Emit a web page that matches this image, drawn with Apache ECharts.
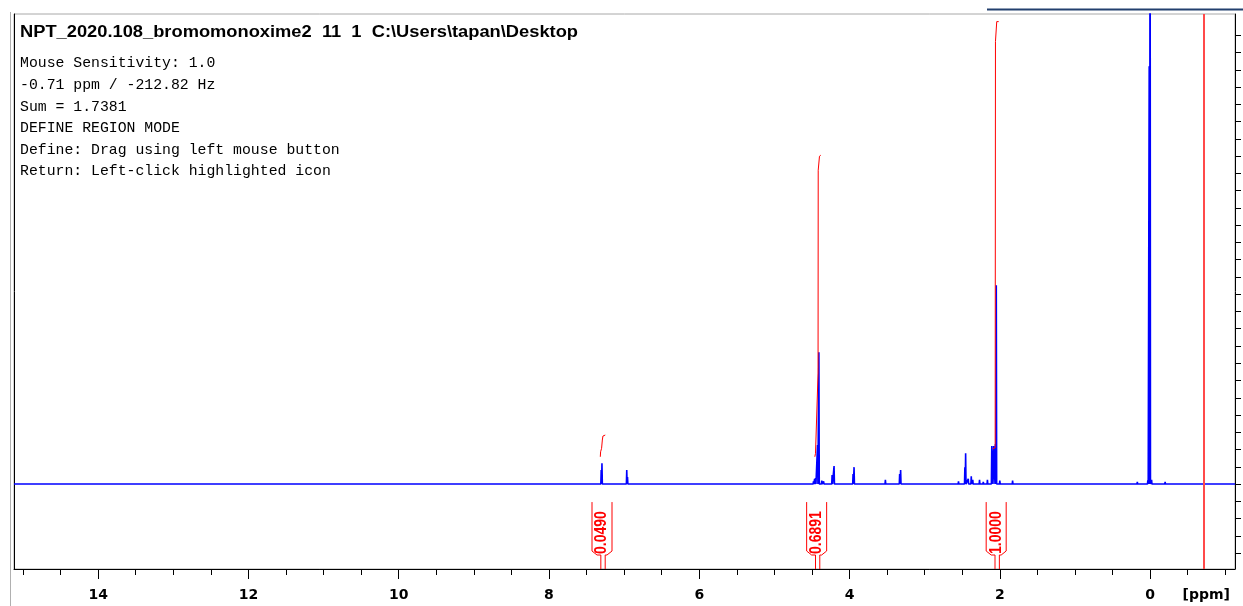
<!DOCTYPE html>
<html>
<head>
<meta charset="utf-8">
<script src="https://cdn.jsdelivr.net/npm/echarts@6/dist/echarts.min.js"></script>
<style>
  html, body { margin: 0; padding: 0; background: #fff; }
  #chart { width: 1243px; height: 606px; }
</style>
</head>
<body>
<div id="chart"></div>
<script>
// 1H NMR spectrum (chemical shift axis runs right-to-left)
const ppmRange = [15.12, -1.13];
const intensityRange = [-4.92, 27.23];

// Peak positions (ppm) and heights (relative intensity), high ppm first
const peakPpm = [
  7.305, 7.295, 6.965, 6.955, 6.83, 5.18, 4.70,
  4.48, 4.465, 4.452, 4.426, 4.408, 4.37, 4.345,
  4.232, 4.206, 4.16, 3.953, 3.94, 3.523, 3.41, 3.333, 3.32,
  2.98, 2.90, 2.72, 2.66, 2.55, 2.465, 2.455, 2.42, 2.38, 2.36,
  2.27, 2.22, 2.165, 2.107, 2.082, 2.058, 2.047, 2.00,
  1.83, 1.26, 0.17, 0.10, 0.03, 0.012, 0.0, -0.02, -0.20
];
const peakHeight = [
  0.81, 1.20, 0.81, 0.40, 0.10, 0.05, 0.04,
  0.15, 0.30, 0.35, 2.26, 7.64, 0.20, 0.15,
  0.52, 1.04, 0.10, 0.58, 0.98, 0.25, 0.10, 0.58, 0.81,
  0.05, 0.05, 0.08, 0.08, 0.15, 0.98, 1.78, 0.30, 0.45, 0.25,
  0.25, 0.12, 0.25, 2.20, 2.20, 2.32, 11.52, 0.20,
  0.20, 0.06, 0.12, 0.10, 0.22, 24.2, 40.0, 0.25, 0.12
];

// Integral traces [ppm, level]
const integralCurve1 = [[7.317, 1.58], [7.313, 1.87], [7.300, 2.07], [7.290, 2.55], [7.282, 2.78], [7.251, 2.84]];
const integralCurve2 = [[4.462, 1.58], [4.453, 1.78], [4.449, 2.32], [4.426, 2.36], [4.419, 6.43], [4.417, 18.18], [4.405, 18.22], [4.400, 18.99], [4.383, 19.05]];
const integralCurve3 = [[2.094, 2.04], [2.062, 2.10], [2.058, 25.64], [2.045, 25.70], [2.041, 26.79], [2.015, 26.79]];

// Integration regions [from ppm, to ppm] and their normalised values
const integralRegions = [[7.310, 7.252], [4.453, 4.396], [2.064, 2.006]];
const integralValues = ['0.0490', '0.6891', '1.0000'];

// Axis ticks
const majorTicks = [14, 12, 10, 8, 6, 4, 2, 0];
const minorTicks = [15, 14.5, 13.5, 13, 12.5, 11.5, 11, 10.5, 9.5, 9, 8.5, 7.5, 7, 6.5,
                    5.5, 5, 4.5, 3.5, 3, 2.5, 1.5, 1, 0.5, -0.5, -1];
const intensityTicks = [-4, -3, -2, -1, 0, 1, 2, 3, 4, 5, 6, 7, 8, 9, 10, 11, 12, 13,
                        14, 15, 16, 17, 18, 19, 20, 21, 22, 23, 24, 25, 26];

// Cursor position and status panel
const cursorPpm = -0.71;
const titleText = 'NPT_2020.108_bromomonoxime2  11  1  C:\\Users\\tapan\\Desktop';
const infoLines = [
  'Mouse Sensitivity: 1.0',
  '-0.71 ppm / -212.82 Hz',
  'Sum = 1.7381',
  'DEFINE REGION MODE',
  'Define: Drag using left mouse button',
  'Return: Left-click highlighted icon'
];

// Spectrum trace: flat baseline with a narrow spike for each peak
const halfWidth = 0.005;
const spectrum = [[ppmRange[0], 0]];
peakPpm.forEach((p, i) => {
  spectrum.push([p + halfWidth, 0], [p, peakHeight[i]], [p - halfWidth, 0]);
});
spectrum.push([ppmRange[1], 0]);

const RED = '#ff0000';
const BLUE = '#0000ff';

const chart = echarts.init(document.getElementById('chart'), null, { renderer: 'canvas' });

const integralLine = (data) => ({
  type: 'line',
  data: data,
  xAxisIndex: 0,
  yAxisIndex: 0,
  showSymbol: false,
  symbol: 'none',
  silent: true,
  lineStyle: { color: RED, width: 1 },
  z: 4
});

chart.setOption({
  animation: false,
  backgroundColor: '#ffffff',
  grid: {
    left: 14, right: 8, top: 14, bottom: 37,
    show: true, borderColor: '#a8a8a8', borderWidth: 1, backgroundColor: '#ffffff'
  },
  xAxis: [
    {
      type: 'value', position: 'bottom', inverse: true,
      min: ppmRange[1], max: ppmRange[0],
      axisLine: { show: true, onZero: false, lineStyle: { color: '#000', width: 1 } },
      axisTick: { show: true, inside: false, length: 10, customValues: majorTicks, lineStyle: { color: '#000', width: 1 } },
      axisLabel: {
        show: true, customValues: majorTicks, margin: 19,
        color: '#000', fontFamily: 'DejaVu Sans', fontWeight: 'bold', fontSize: 14
      },
      splitLine: { show: false }
    },
    {
      type: 'value', position: 'bottom', inverse: true,
      min: ppmRange[1], max: ppmRange[0],
      axisLine: { show: false, onZero: false },
      axisTick: { show: true, inside: false, length: 6, customValues: minorTicks, lineStyle: { color: '#000', width: 1 } },
      axisLabel: { show: false },
      splitLine: { show: false }
    }
  ],
  yAxis: [
    {
      type: 'value', position: 'right',
      min: intensityRange[0], max: intensityRange[1],
      axisLine: { show: true, onZero: false, lineStyle: { color: '#000', width: 1 } },
      axisTick: { show: true, inside: false, length: 6, customValues: intensityTicks, lineStyle: { color: '#000', width: 1 } },
      axisLabel: { show: false },
      splitLine: { show: false }
    },
    {
      type: 'value', position: 'left',
      min: intensityRange[0], max: intensityRange[1],
      axisLine: { show: true, onZero: false, lineStyle: { color: '#000', width: 1 } },
      axisTick: { show: false },
      axisLabel: { show: false },
      splitLine: { show: false }
    }
  ],
  series: [
    {
      type: 'line',
      name: 'spectrum',
      data: spectrum,
      xAxisIndex: 0,
      yAxisIndex: 0,
      showSymbol: false,
      symbol: 'none',
      silent: true,
      clip: true,
      lineStyle: { color: BLUE, width: 1.6 },
      z: 3,
      markLine: {
        silent: true,
        symbol: ['none', 'none'],
        label: { show: false },
        lineStyle: { color: '#ff4a4a', width: 2, type: 'solid' },
        data: [{ xAxis: cursorPpm }]
      }
    },
    integralLine(integralCurve1),
    integralLine(integralCurve2),
    integralLine(integralCurve3),
    {
      type: 'custom',
      name: 'integrals',
      xAxisIndex: 0,
      yAxisIndex: 0,
      silent: true,
      z: 5,
      data: integralRegions.map((r, i) => [r[0], r[1], i]),
      encode: { x: [0, 1] },
      renderItem: function (params, api) {
        const idx = api.value(2);
        const pL = api.coord([api.value(0), 0]);
        const pR = api.coord([api.value(1), 0]);
        const base = pL[1];
        const bottom = api.coord([api.value(0), intensityRange[0]])[1];
        const sL = pL[0], sR = pR[0];
        const c = (sL + sR) / 2 - 1;
        const xl = c - 10, xr = c + 10;
        const top = base + 18;
        const cornerY = bottom - 14;
        const ls = { stroke: RED, lineWidth: 1, fill: null };
        return {
          type: 'group',
          children: [
            { type: 'polyline', shape: { points: [[sL, bottom], [sL, cornerY], [xl + 5, cornerY], [xl, cornerY - 4], [xl, top]] }, style: ls },
            { type: 'polyline', shape: { points: [[sR, bottom], [sR, cornerY], [xr - 5, cornerY], [xr, cornerY - 4], [xr, top]] }, style: ls },
            {
              type: 'text', x: c, y: cornerY - 1, rotation: Math.PI / 2, scaleY: 1.15,
              style: {
                text: integralValues[idx], x: 0, y: 0,
                fill: RED, fontSize: 14, fontWeight: 'bold', fontFamily: 'Liberation Sans',
                align: 'left', verticalAlign: 'middle'
              }
            }
          ]
        };
      }
    }
  ],
  graphic: [
    // window frame lines
    { type: 'line', shape: { x1: 10.5, y1: 12, x2: 10.5, y2: 606 }, style: { stroke: '#b0b0b0', lineWidth: 1 }, silent: true },
    { type: 'line', shape: { x1: 987, y1: 9.5, x2: 1243, y2: 9.5 }, style: { stroke: '#23406e', lineWidth: 2 }, silent: true },
    // spectrum header and status panel
    {
      type: 'text', left: 20, top: 25, scaleX: 1.143, silent: true,
      style: { text: titleText, fill: '#000', font: 'bold 16px "Liberation Sans", Arial, sans-serif' }
    },
    {
      type: 'group', left: 20, top: 56, silent: true,
      children: infoLines.map((t, i) => ({
        type: 'text', x: 0, y: i * 21.6,
        style: { text: t, fill: '#000', font: '14.8px "Liberation Mono", monospace' }
      }))
    },
    {
      type: 'text', right: 13, top: 588, silent: true,
      style: { text: '[ppm]', fill: '#000', font: 'bold 14px "DejaVu Sans", sans-serif' }
    }
  ]
});
</script>
</body>
</html>
